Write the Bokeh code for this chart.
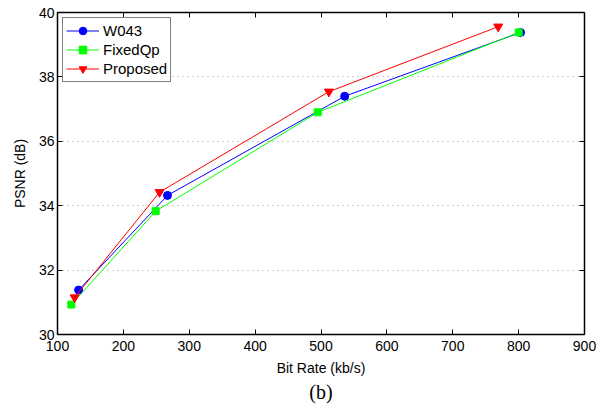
from bokeh.plotting import figure
from bokeh.embed import file_html
from bokeh.resources import INLINE
from bokeh.models import LinearAxis, Title, Range1d, Legend

# Data
w043_rate = [132, 267, 536, 803]
w043_psnr = [31.38, 34.32, 37.40, 39.38]
fixed_rate = [121, 249, 495, 800]
fixed_psnr = [30.93, 33.83, 36.90, 39.38]
prop_rate = [126, 255, 512, 769]
prop_psnr = [31.15, 34.42, 37.54, 39.56]

x_ticks = [100, 200, 300, 400, 500, 600, 700, 800, 900]
y_ticks = [30, 32, 34, 36, 38, 40]

FONT = "Liberation Sans"

p = figure(width=601, height=407, output_backend="svg", toolbar_location=None,
           x_range=Range1d(100, 900), y_range=Range1d(30, 40),
           min_border_left=57, min_border_right=17, min_border_top=12,
           min_border_bottom=73, x_axis_label="Bit Rate (kb/s)",
           y_axis_label="PSNR (dB)")
p.outline_line_color = None
p.background_fill_color = "white"
p.border_fill_color = "white"

p.xgrid.grid_line_color = None
p.ygrid.grid_line_color = "#9a9a9a"
p.ygrid.grid_line_dash = "1 4"
p.ygrid.grid_line_width = 1

def style_axis(ax, show_labels=True):
    ax.axis_line_color = "black"
    ax.axis_line_width = 1.5
    ax.major_tick_in = 5
    ax.major_tick_out = 0
    ax.minor_tick_in = 0
    ax.minor_tick_out = 0
    ax.major_tick_line_color = "black"
    ax.major_tick_line_width = 1
    ax.major_label_text_font = FONT
    ax.major_label_text_font_size = "14px"
    ax.major_label_text_color = "black"
    ax.axis_label_text_font = FONT
    ax.axis_label_text_font_size = "14px"
    ax.axis_label_text_font_style = "normal"
    ax.axis_label_text_color = "black"
    if not show_labels:
        ax.major_label_overrides = {t: "" for t in ax.ticker.ticks}
        ax.major_label_standoff = 0

p.xaxis.ticker = x_ticks
p.yaxis.ticker = y_ticks
for ax in p.xaxis + p.yaxis:
    style_axis(ax)
p.xaxis.major_label_standoff = 6
p.xaxis.axis_label_standoff = 6
p.yaxis.major_label_standoff = 3
p.yaxis.axis_label_standoff = 8

top = LinearAxis(ticker=x_ticks)
style_axis(top, False)
right = LinearAxis(ticker=y_ticks)
style_axis(right, False)
p.add_layout(top, "above")
p.add_layout(right, "right")

r1 = p.line(w043_rate, w043_psnr, color="blue", line_width=1)
m1 = p.scatter(w043_rate, w043_psnr, marker="circle", size=8, color="blue")
r2 = p.line(fixed_rate, fixed_psnr, color="#00ff00", line_width=1)
m2 = p.scatter(fixed_rate, fixed_psnr, marker="square", size=7, color="#00ff00")
r3 = p.line(prop_rate, prop_psnr, color="red", line_width=1)
m3 = p.scatter(prop_rate, prop_psnr, marker="inverted_triangle", size=9, color="red")

legend = Legend(items=[("W043", [r1, m1]), ("FixedQp", [r2, m2]), ("Proposed", [r3, m3])],
                location="top_left")
legend.border_line_color = "black"
legend.border_line_width = 1
legend.label_text_font = FONT
legend.label_text_font_size = "15px"
legend.label_text_color = "black"
legend.padding = 3
legend.spacing = 0
legend.margin = 5
legend.label_height = 19
legend.glyph_height = 19
legend.glyph_width = 33
legend.label_standoff = 4
legend.background_fill_alpha = 1
p.add_layout(legend, "center")

cap = Title(text="(b)", align="center", text_font="Liberation Serif",
            text_font_size="20px", text_font_style="normal", text_color="black",
            standoff=0, offset=0)
p.add_layout(cap, "below")

open("out.html", "w").write(file_html(p, INLINE))
